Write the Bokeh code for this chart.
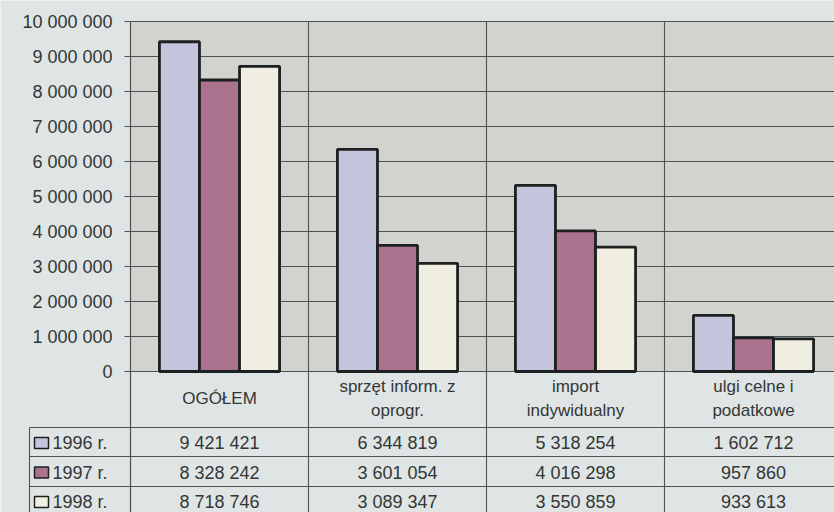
from bokeh.plotting import figure
from bokeh.models import ColumnDataSource, FixedTicker, Range1d, LinearAxis
from bokeh.core.properties import value
from bokeh.embed import file_html
from bokeh.resources import INLINE

# ---------------- data ----------------
categories = ["OGÓŁEM", "sprzęt inform. z\noprogr.", "import\nindywidualny", "ulgi celne i\npodatkowe"]
series_names = ["1996 r.", "1997 r.", "1998 r."]
values_1996 = [9421421, 6344819, 5318254, 1602712]
values_1997 = [8328242, 3601054, 4016298, 957860]
values_1998 = [8718746, 3089347, 3550859, 933613]
y_ticks = [0, 1000000, 2000000, 3000000, 4000000, 5000000,
           6000000, 7000000, 8000000, 9000000, 10000000]
y_tick_labels = ["0", "1 000 000", "2 000 000", "3 000 000", "4 000 000", "5 000 000",
                 "6 000 000", "7 000 000", "8 000 000", "9 000 000", "10 000 000"]

series_values = [values_1996, values_1997, values_1998]

# ---------------- style ----------------
PAGE_BG = "#dfe5e4"
PLOT_BG = "#d2d3cf"
GRID = "#4d5252"
OUTLINE = "#1c2020"
TEXT = "#333636"
COLORS = ["#c4c5dc", "#aa728c", "#efeee0"]
FONT = value("Liberation Sans")

# ---------------- layout helpers (pixel rows/cols -> data units) ----------------
W, H = 834, 512
PX_PER_M = 35.0
ZERO_ROW = 371.0
AXIS_COL = 130.0
CAT_PX = 178.0

def yd(row):
    return (ZERO_ROW - row) / PX_PER_M * 1e6

def xd(col):
    return (col - AXIS_COL) / CAT_PX

X_END = xd(W)
Y_BOTTOM = yd(H)
Y_MAX = y_ticks[-1]

p = figure(width=W, height=H,
           x_range=Range1d(xd(0), X_END),
           y_range=Range1d(Y_BOTTOM, yd(0)),
           output_backend="svg", toolbar_location=None,
           x_axis_location=None, y_axis_location=None,
           min_border_left=0, min_border_right=0,
           min_border_top=0, min_border_bottom=0,
           background_fill_color=PAGE_BG, border_fill_color=PAGE_BG)
p.outline_line_color = None
p.xgrid.visible = False
p.ygrid.visible = False

ax = LinearAxis(fixed_location=0, bounds=(Y_BOTTOM, Y_MAX))
ax.ticker = FixedTicker(ticks=y_ticks)
ax.major_label_overrides = {t: s for t, s in zip(y_ticks, y_tick_labels)}
ax.major_tick_out = 6
ax.major_tick_in = 0
ax.minor_tick_out = 0
ax.minor_tick_in = 0
ax.axis_line_color = GRID
ax.axis_line_width = 1.2
ax.major_tick_line_color = GRID
ax.major_label_standoff = 12
ax.major_label_text_font = "Liberation Sans"
ax.major_label_text_font_size = "18px"
ax.major_label_text_color = TEXT
p.add_layout(ax, "left")

# plot area background
p.quad(left=0, right=4, bottom=0, top=Y_MAX, fill_color=PLOT_BG, line_color=None)
# horizontal grid lines (plot area) and category separators (plot + table)
n_t = len(y_ticks)
p.segment(x0=[0] * n_t, x1=[4] * n_t, y0=y_ticks, y1=y_ticks, line_color=GRID, line_width=1.1)
p.segment(x0=[1, 2, 3], x1=[1, 2, 3], y0=[Y_BOTTOM] * 3, y1=[Y_MAX] * 3,
          line_color=GRID, line_width=1.1)

# bars
offsets = [-0.225, 0.0, 0.225]
for vals, off, col in zip(series_values, offsets, COLORS):
    src = ColumnDataSource(dict(x=[i + 0.5 + off for i in range(len(categories))], top=vals))
    p.vbar(x="x", top="top", bottom=0, width=0.225, source=src,
           fill_color=col, line_color=OUTLINE, line_width=2.8)

# ---------------- data table ----------------
row_tops = [427, 456, 486]
row_bots = [456, 486, 515]
LEG_LEFT = xd(29)

p.segment(x0=[LEG_LEFT] * 3, x1=[4] * 3, y0=[yd(r) for r in row_tops],
          y1=[yd(r) for r in row_tops], line_color=GRID, line_width=1.1)
p.segment(x0=[LEG_LEFT], x1=[LEG_LEFT], y0=[yd(row_tops[0])], y1=[yd(row_bots[-1])],
          line_color=GRID, line_width=1.1)

cat_x = [i + 0.5 for i in range(len(categories))]
p.text(x=cat_x, y=[yd(398)] * len(categories), text=categories,
       text_align="center", text_baseline="middle", text_font=FONT,
       text_font_size="17px", text_color=TEXT, text_line_height=1.28)

for name, vals, col, top, bot in zip(series_names, series_values, COLORS, row_tops, row_bots):
    rc = (top + bot) / 2 + 1
    labels = [f"{v:,}".replace(",", " ") for v in vals]
    p.text(x=cat_x, y=[yd(rc)] * len(vals), text=labels,
           text_align="center", text_baseline="middle", text_font=FONT,
           text_font_size="18px", text_color=TEXT)
    p.rect(x=[xd(41)], y=[yd(rc)], width=14, height=11,
           width_units="screen", height_units="screen",
           fill_color=col, line_color=OUTLINE, line_width=1.5)
    p.text(x=[xd(52)], y=[yd(rc)], text=[name],
           text_align="left", text_baseline="middle", text_font=FONT,
           text_font_size="18px", text_color=TEXT)

open("out.html", "w").write(file_html(p, INLINE))
